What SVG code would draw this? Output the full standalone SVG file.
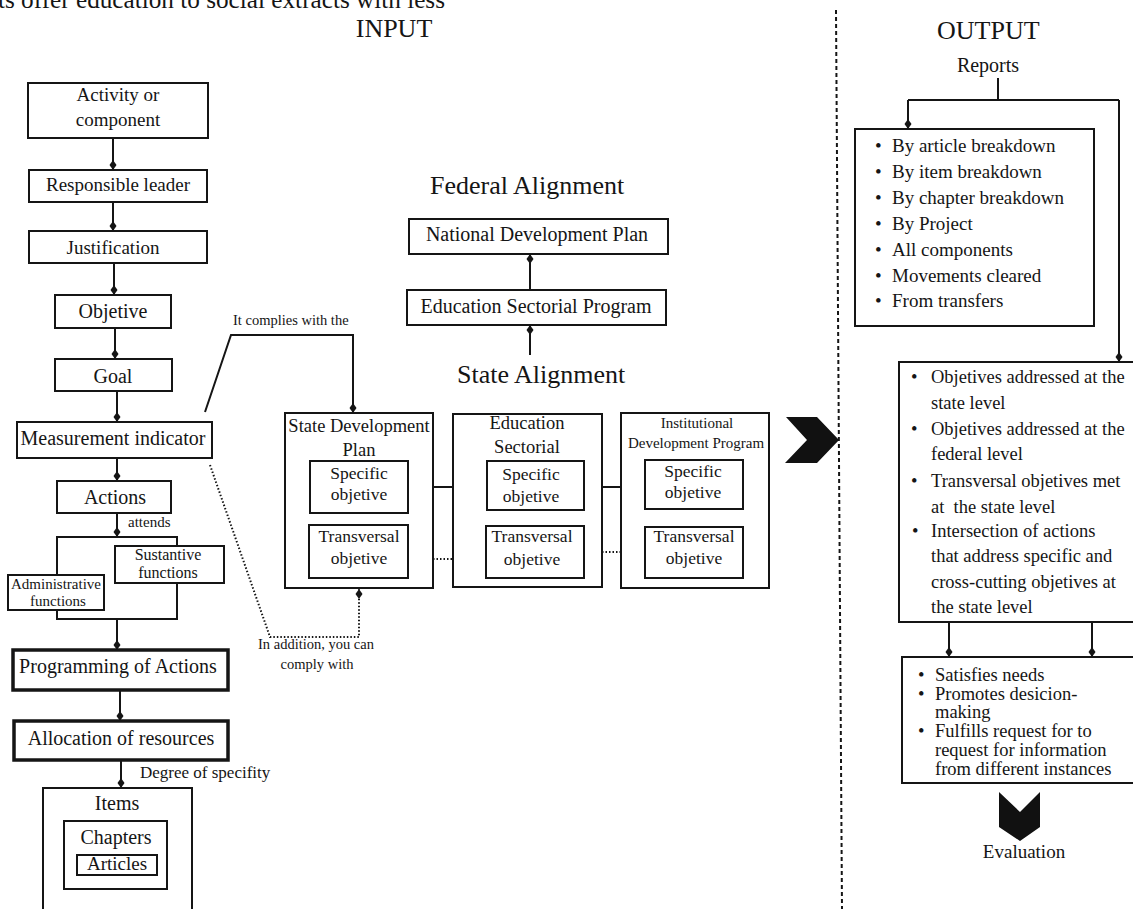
<svg xmlns="http://www.w3.org/2000/svg" width="1133" height="909" viewBox="0 0 1133 909">
<style>
text{font-family:"Liberation Serif","Times New Roman",serif;fill:#151515}
.c{text-anchor:middle}
.box{fill:#fff;stroke:#151515;stroke-width:2}
.thick{fill:#fff;stroke:#151515;stroke-width:3.5}
.ln{fill:none;stroke:#151515;stroke-width:2}
.dot{fill:none;stroke:#151515;stroke-width:2;stroke-dasharray:1.5 2}
.dash{fill:none;stroke:#151515;stroke-width:2;stroke-dasharray:4 3}
.s14{font-size:14.5px}.s15{font-size:15px}.s16{font-size:16px}.s17{font-size:17.5px}.s18{font-size:18.5px}.s19{font-size:19px}.s20{font-size:20px}.s26{font-size:26px}
</style>
<defs>
<marker id="dia" viewBox="0 -4 10 8" refX="10" refY="0" markerWidth="10" markerHeight="8" markerUnits="userSpaceOnUse" orient="auto">
<path d="M0,0 L5,-3.5 L10,0 L5,3.5 Z" fill="#151515"/>
</marker>
</defs>
<rect width="1133" height="909" fill="#fff"/>

<text x="-2" y="8" style="font-size:25px" textLength="447" lengthAdjust="spacingAndGlyphs">ts offer education to social extracts with less</text>
<text class="c s26" x="394" y="37">INPUT</text>
<text class="s26" x="937" y="39">OUTPUT</text>
<text class="c s20" x="988" y="72">Reports</text>
<text class="s26" x="430" y="194">Federal Alignment</text>
<text class="s26" x="457" y="383">State Alignment</text>

<g id="connectors">
<path class="ln" d="M113,138 V170" marker-end="url(#dia)"/>
<path class="ln" d="M113,202 V231" marker-end="url(#dia)"/>
<path class="ln" d="M114,263 V295" marker-end="url(#dia)"/>
<path class="ln" d="M115,328 V359" marker-end="url(#dia)"/>
<path class="ln" d="M117,391 V422" marker-end="url(#dia)"/>
<path class="ln" d="M117,458 V481" marker-end="url(#dia)"/>
<path class="ln" d="M117,513 V537" marker-end="url(#dia)"/>
<rect class="ln" x="57" y="537" width="120" height="82"/>
<path class="ln" d="M117,619 V650" marker-end="url(#dia)"/>
<path class="ln" d="M120,690 V721" marker-end="url(#dia)"/>
<path class="ln" d="M121,760 V788" marker-end="url(#dia)"/>
<path class="ln" d="M205,412 L231,335 H353 V413" marker-end="url(#dia)"/>
<path class="dot" d="M210,465 L270,637 H359 V589" marker-end="url(#dia)"/>
<path class="ln" d="M530,290 V254" marker-end="url(#dia)"/>
<path class="ln" d="M530,355 V325" marker-end="url(#dia)"/>
<path class="ln" d="M433,487 H453"/>
<path class="dot" d="M433,559 H453"/>
<path class="ln" d="M602,487 H621"/>
<path class="dot" d="M602,552 H621"/>
<path class="dash" d="M836,10 L842,909"/>
<path class="ln" d="M998,78 V100 M908,100 H1119"/>
<path class="ln" d="M908,100 V129" marker-end="url(#dia)"/>
<path class="ln" d="M1119,100 V362" marker-end="url(#dia)"/>
<path class="ln" d="M949,622 V657" marker-end="url(#dia)"/>
<path class="ln" d="M1092,622 V657" marker-end="url(#dia)"/>
<polygon points="786,417 817,417 839,440 817,463 785,463 807,440" fill="#111"/>
<polygon points="999,792 1020,812 1040,792 1040,827 1020,841 999,827" fill="#111"/>
</g>

<g id="activity"><rect class="box" x="28" y="83" width="180" height="55"/><text class="c s19" x="118" y="101">Activity or</text><text class="c s19" x="118" y="126">component</text></g>
<g id="responsible"><rect class="box" x="29" y="170" width="178" height="32"/><text class="c s19" x="118" y="191">Responsible leader</text></g>
<g id="justification"><rect class="box" x="29" y="231" width="178" height="32"/><text class="c s19" x="113" y="254">Justification</text></g>
<g id="objetive"><rect class="box" x="55" y="295" width="116" height="33"/><text class="c s20" x="113" y="318">Objetive</text></g>
<g id="goal"><rect class="box" x="55" y="359" width="117" height="32"/><text class="c s20" x="113" y="383">Goal</text></g>
<g id="measurement"><rect class="box" x="17" y="422" width="195" height="36"/><text class="c s20" x="113" y="445">Measurement indicator</text></g>
<g id="actions"><rect class="box" x="57" y="481" width="114" height="32"/><text class="c s20" x="115" y="504">Actions</text></g>
<text class="s15" x="128" y="527">attends</text>
<g id="sustantive"><rect class="box" x="115" y="546" width="109" height="37"/><text class="c s16" x="168" y="560">Sustantive</text><text class="c s16" x="168" y="578">functions</text></g>
<g id="administrative"><rect class="box" x="8" y="575" width="96" height="35"/><text class="c s15" x="56" y="589">Administrative</text><text class="c s15" x="58" y="606">functions</text></g>
<g id="programming"><rect class="thick" x="13" y="650" width="215" height="40"/><text class="c s20" x="118" y="673">Programming of Actions</text></g>
<g id="allocation"><rect class="thick" x="14" y="721" width="214" height="39"/><text class="c s20" x="121" y="745">Allocation of resources</text></g>
<text style="font-size:17px" x="140" y="778">Degree of specifity</text>
<g id="items"><rect class="box" x="43" y="788" width="149" height="130"/><text class="c s20" x="117" y="810">Items</text></g>
<g id="chapters"><rect class="box" x="64" y="821" width="103" height="68"/><text class="c s20" x="116" y="844">Chapters</text></g>
<g id="articles"><rect class="box" x="77" y="855" width="80" height="20"/><text class="c s19" x="117" y="870">Articles</text></g>

<text class="s14" x="233" y="325">It complies with the</text>
<text class="c s14" x="316" y="649">In addition, you can</text>
<text class="c s14" x="317" y="669">comply with</text>

<g id="ndp"><rect class="box" x="409" y="219" width="259" height="35"/><text class="c s20" x="537" y="241">National Development Plan</text></g>
<g id="esp"><rect class="box" x="407" y="290" width="259" height="35"/><text class="c s20" x="536" y="313">Education Sectorial Program</text></g>

<g id="sdp"><rect class="box" x="285" y="413" width="148" height="175"/><text class="c s18" x="359" y="432">State Development</text><text class="c s18" x="359" y="456">Plan</text>
<rect class="box" x="310" y="461" width="98" height="52"/><text class="c s17" x="359" y="479">Specific</text><text class="c s17" x="359" y="500">objetive</text>
<rect class="box" x="309" y="525" width="99" height="53"/><text class="c s17" x="359" y="542">Transversal</text><text class="c s17" x="359" y="564">objetive</text></g>

<g id="es"><rect class="box" x="453" y="414" width="149" height="173"/><text class="c s18" x="527" y="429">Education</text><text class="c s18" x="527" y="453">Sectorial</text>
<rect class="box" x="487" y="461" width="97" height="49"/><text class="c s17" x="531" y="480">Specific</text><text class="c s17" x="531" y="502">objetive</text>
<rect class="box" x="486" y="526" width="98" height="52"/><text class="c s17" x="532" y="542">Transversal</text><text class="c s17" x="532" y="565">objetive</text></g>

<g id="idp"><rect class="box" x="621" y="413" width="148" height="175"/><text class="c s15" x="697" y="428">Institutional</text><text class="c s15" x="696" y="448">Development Program</text>
<rect class="box" x="645" y="460" width="98" height="49"/><text class="c s17" x="693" y="477">Specific</text><text class="c s17" x="693" y="498">objetive</text>
<rect class="box" x="645" y="527" width="98" height="51"/><text class="c s17" x="694" y="542">Transversal</text><text class="c s17" x="694" y="564">objetive</text></g>

<g id="reports-list"><rect class="box" x="855" y="129" width="239" height="197"/>
<g class="s19">
<text x="875" y="152">•</text><text x="892" y="152">By article breakdown</text>
<text x="875" y="178">•</text><text x="892" y="178">By item breakdown</text>
<text x="875" y="204">•</text><text x="892" y="204">By chapter breakdown</text>
<text x="875" y="230">•</text><text x="892" y="230">By Project</text>
<text x="875" y="256">•</text><text x="892" y="256">All components</text>
<text x="875" y="282">•</text><text x="892" y="282">Movements cleared</text>
<text x="875" y="307">•</text><text x="892" y="307">From transfers</text>
</g></g>

<g id="objectives-list"><rect class="box" x="899" y="362" width="260" height="260"/>
<g class="s18">
<text x="911" y="383">•</text><text x="931" y="383">Objetives addressed at the</text>
<text x="931" y="409">state level</text>
<text x="911" y="435">•</text><text x="931" y="435">Objetives addressed at the</text>
<text x="931" y="460">federal level</text>
<text x="911" y="487">•</text><text x="931" y="487">Transversal objetives met</text>
<text x="931" y="513" xml:space="preserve">at  the state level</text>
<text x="912" y="537">•</text><text x="931" y="537">Intersection of actions</text>
<text x="931" y="562">that address specific and</text>
<text x="931" y="588">cross-cutting objetives at</text>
<text x="931" y="613">the state level</text>
</g></g>

<g id="benefits-list"><rect class="box" x="902" y="657" width="260" height="126"/>
<g style="font-size:18.5px">
<text x="918" y="681">•</text><text x="935" y="681">Satisfies needs</text>
<text x="918" y="700">•</text><text x="935" y="700">Promotes desicion-</text>
<text x="935" y="718">making</text>
<text x="918" y="737">•</text><text x="935" y="737">Fulfills request for to</text>
<text x="935" y="756">request for information</text>
<text x="935" y="775">from different instances</text>
</g></g>

<g id="evaluation"><text class="c s19" x="1024" y="858">Evaluation</text></g>
</svg>
